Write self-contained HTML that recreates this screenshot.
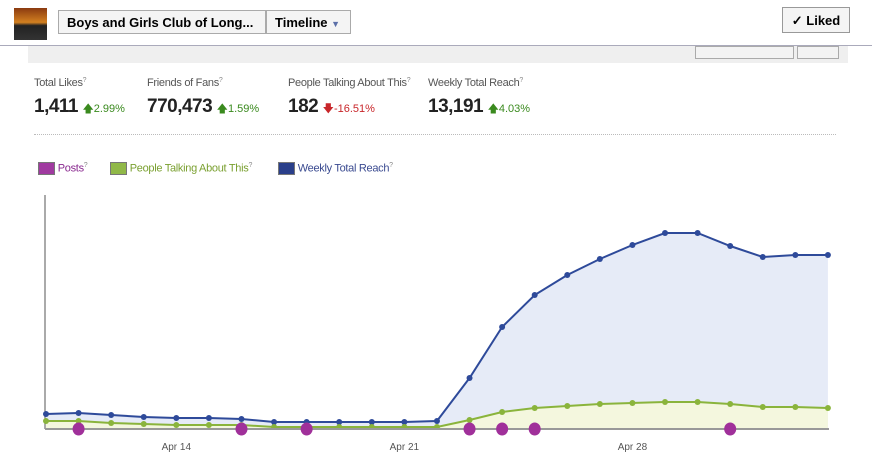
<!DOCTYPE html>
<html><head><meta charset="utf-8"><style>
body{margin:0;width:872px;height:472px;background:#fff;font-family:"Liberation Sans",sans-serif;position:relative;overflow:hidden}
.a{position:absolute}
.lbl{font-size:11px;color:#555;letter-spacing:-0.3px}
.big{font-size:19px;font-weight:bold;color:#222;letter-spacing:-0.5px}
.up{color:#3a8a1e;font-size:11px}
.dn{color:#c8262a;font-size:11px}
.q{font-size:7px;color:#888;vertical-align:top}
</style></head><body>
<div class="a" style="left:0;top:0;width:872px;height:44px;background:#fff"></div>
<div class="a" style="left:14px;top:8px;width:33px;height:32px;background:linear-gradient(#8a3a10,#d28020 45%,#222 55%,#333)"></div>
<div class="a" style="left:58px;top:10px;width:208px;height:24px;border:1px solid #aaa;background:#f4f4f4;font-size:13px;font-weight:bold;line-height:24px;padding-left:8px;box-sizing:border-box">Boys and Girls Club of Long...</div>
<div class="a" style="left:266px;top:10px;width:85px;height:24px;border:1px solid #aaa;background:#f4f4f4;font-size:13px;font-weight:bold;line-height:24px;padding-left:8px;box-sizing:border-box">Timeline <span style="color:#5b6fa8;font-size:9px">▼</span></div>
<div class="a" style="left:782px;top:7px;width:68px;height:26px;border:1px solid #999;background:#f4f4f4;font-size:13px;font-weight:bold;line-height:26px;text-align:center;box-sizing:border-box">✓ Liked</div>
<div class="a" style="left:0;top:45px;width:872px;height:1px;background:#aab"></div>
<div class="a" style="left:28px;top:46px;width:820px;height:17px;background:#efefef"></div>
<div class="a" style="left:695px;top:46px;width:97px;height:11px;border:1px solid #aaa;background:#f3f3f3"></div>
<div class="a" style="left:797px;top:46px;width:40px;height:11px;border:1px solid #aaa;background:#f3f3f3"></div>

<div class="a lbl" style="left:34px;top:77px">Total Likes<span class="q">?</span></div>
<div class="a" style="left:34px;top:96px"><span class="big">1,411</span> <span class="up">🡅2.99%</span></div>
<div class="a lbl" style="left:147px;top:77px">Friends of Fans<span class="q">?</span></div>
<div class="a" style="left:147px;top:96px"><span class="big">770,473</span> <span class="up">🡅1.59%</span></div>
<div class="a lbl" style="left:288px;top:77px">People Talking About This<span class="q">?</span></div>
<div class="a" style="left:288px;top:96px"><span class="big">182</span> <span class="dn">🡇-16.51%</span></div>
<div class="a lbl" style="left:428px;top:77px">Weekly Total Reach<span class="q">?</span></div>
<div class="a" style="left:428px;top:96px"><span class="big">13,191</span> <span class="up">🡅4.03%</span></div>
<div class="a" style="left:34px;top:134px;width:802px;border-top:1px dotted #bbb"></div>

<div class="a lbl" style="left:38px;top:162px;color:#8a2a90"><span style="display:inline-block;width:15px;height:11px;background:#a03aa0;border:1px solid #777;vertical-align:middle"></span> Posts<span class="q">?</span></div>
<div class="a lbl" style="left:110px;top:162px;color:#7aa030"><span style="display:inline-block;width:15px;height:11px;background:#90b848;border:1px solid #777;vertical-align:middle"></span> People Talking About This<span class="q">?</span></div>
<div class="a lbl" style="left:278px;top:162px;color:#3a4a90"><span style="display:inline-block;width:15px;height:11px;background:#2a3f8a;border:1px solid #777;vertical-align:middle"></span> Weekly Total Reach<span class="q">?</span></div>

<svg class="a" style="left:0;top:0" width="872" height="472">
<g id="g"></g>
</svg>
<script>
const reach=[15,16,14,12,11,11,10,7,7,7,7,7,8,51,102,134,154,170,184,196,196,183,172,174,174];
const talking=[8,8,6,5,4,4,4,2,2,2,2,2,2,9,17,21,23,25,26,27,27,25,22,22,21];
const postDays=[1,6,8,13,14,15,21];
const tickIdx=[4,11,18];
const tickLabels=["Apr 14","Apr 21","Apr 28"];
const x0=46,dx=32.58,y0=429;
const X=i=>x0+i*dx, Y=v=>y0-v;
const g=document.getElementById('g');
const NS='http://www.w3.org/2000/svg';
function mk(t,a){const e=document.createElementNS(NS,t);for(const k in a)e.setAttribute(k,a[k]);g.appendChild(e);return e;}
let ax=mk('line',{x1:45,y1:195,x2:45,y2:y0,stroke:'#555'});


function area(d,fill,name){const p='M'+X(0)+','+y0+d.map((v,i)=>'L'+X(i)+','+Y(v)).join('')+'L'+X(d.length-1)+','+y0+'Z';
const e=mk('path',{d:p,fill:fill});

}
area(reach,'#e6ebf7','reach-area');
area(talking,'#f4f7de','talking-area');
function line(d,c,name){const e=mk('polyline',{points:d.map((v,i)=>X(i)+','+Y(v)).join(' '),fill:'none',stroke:c,'stroke-width':2});


d.forEach((v,i)=>{const p=mk('circle',{cx:X(i),cy:Y(v),r:3,fill:c});

});}
line(reach,'#2e4a9a','reach-line');
line(talking,'#8ab43c','talking-line');
let xa=mk('line',{x1:45,y1:y0,x2:829,y2:y0,stroke:'#999','stroke-width':2});


tickIdx.forEach((t,k)=>{const tl=mk('text',{x:X(t),y:450,'text-anchor':'middle','font-size':10,fill:'#555','font-family':'Liberation Sans'});tl.textContent=tickLabels[k];

});
postDays.forEach(i=>{const p=mk('ellipse',{cx:X(i),cy:y0,rx:6,ry:6.5,fill:'#a0309a'});

});
</script>
</body></html>
